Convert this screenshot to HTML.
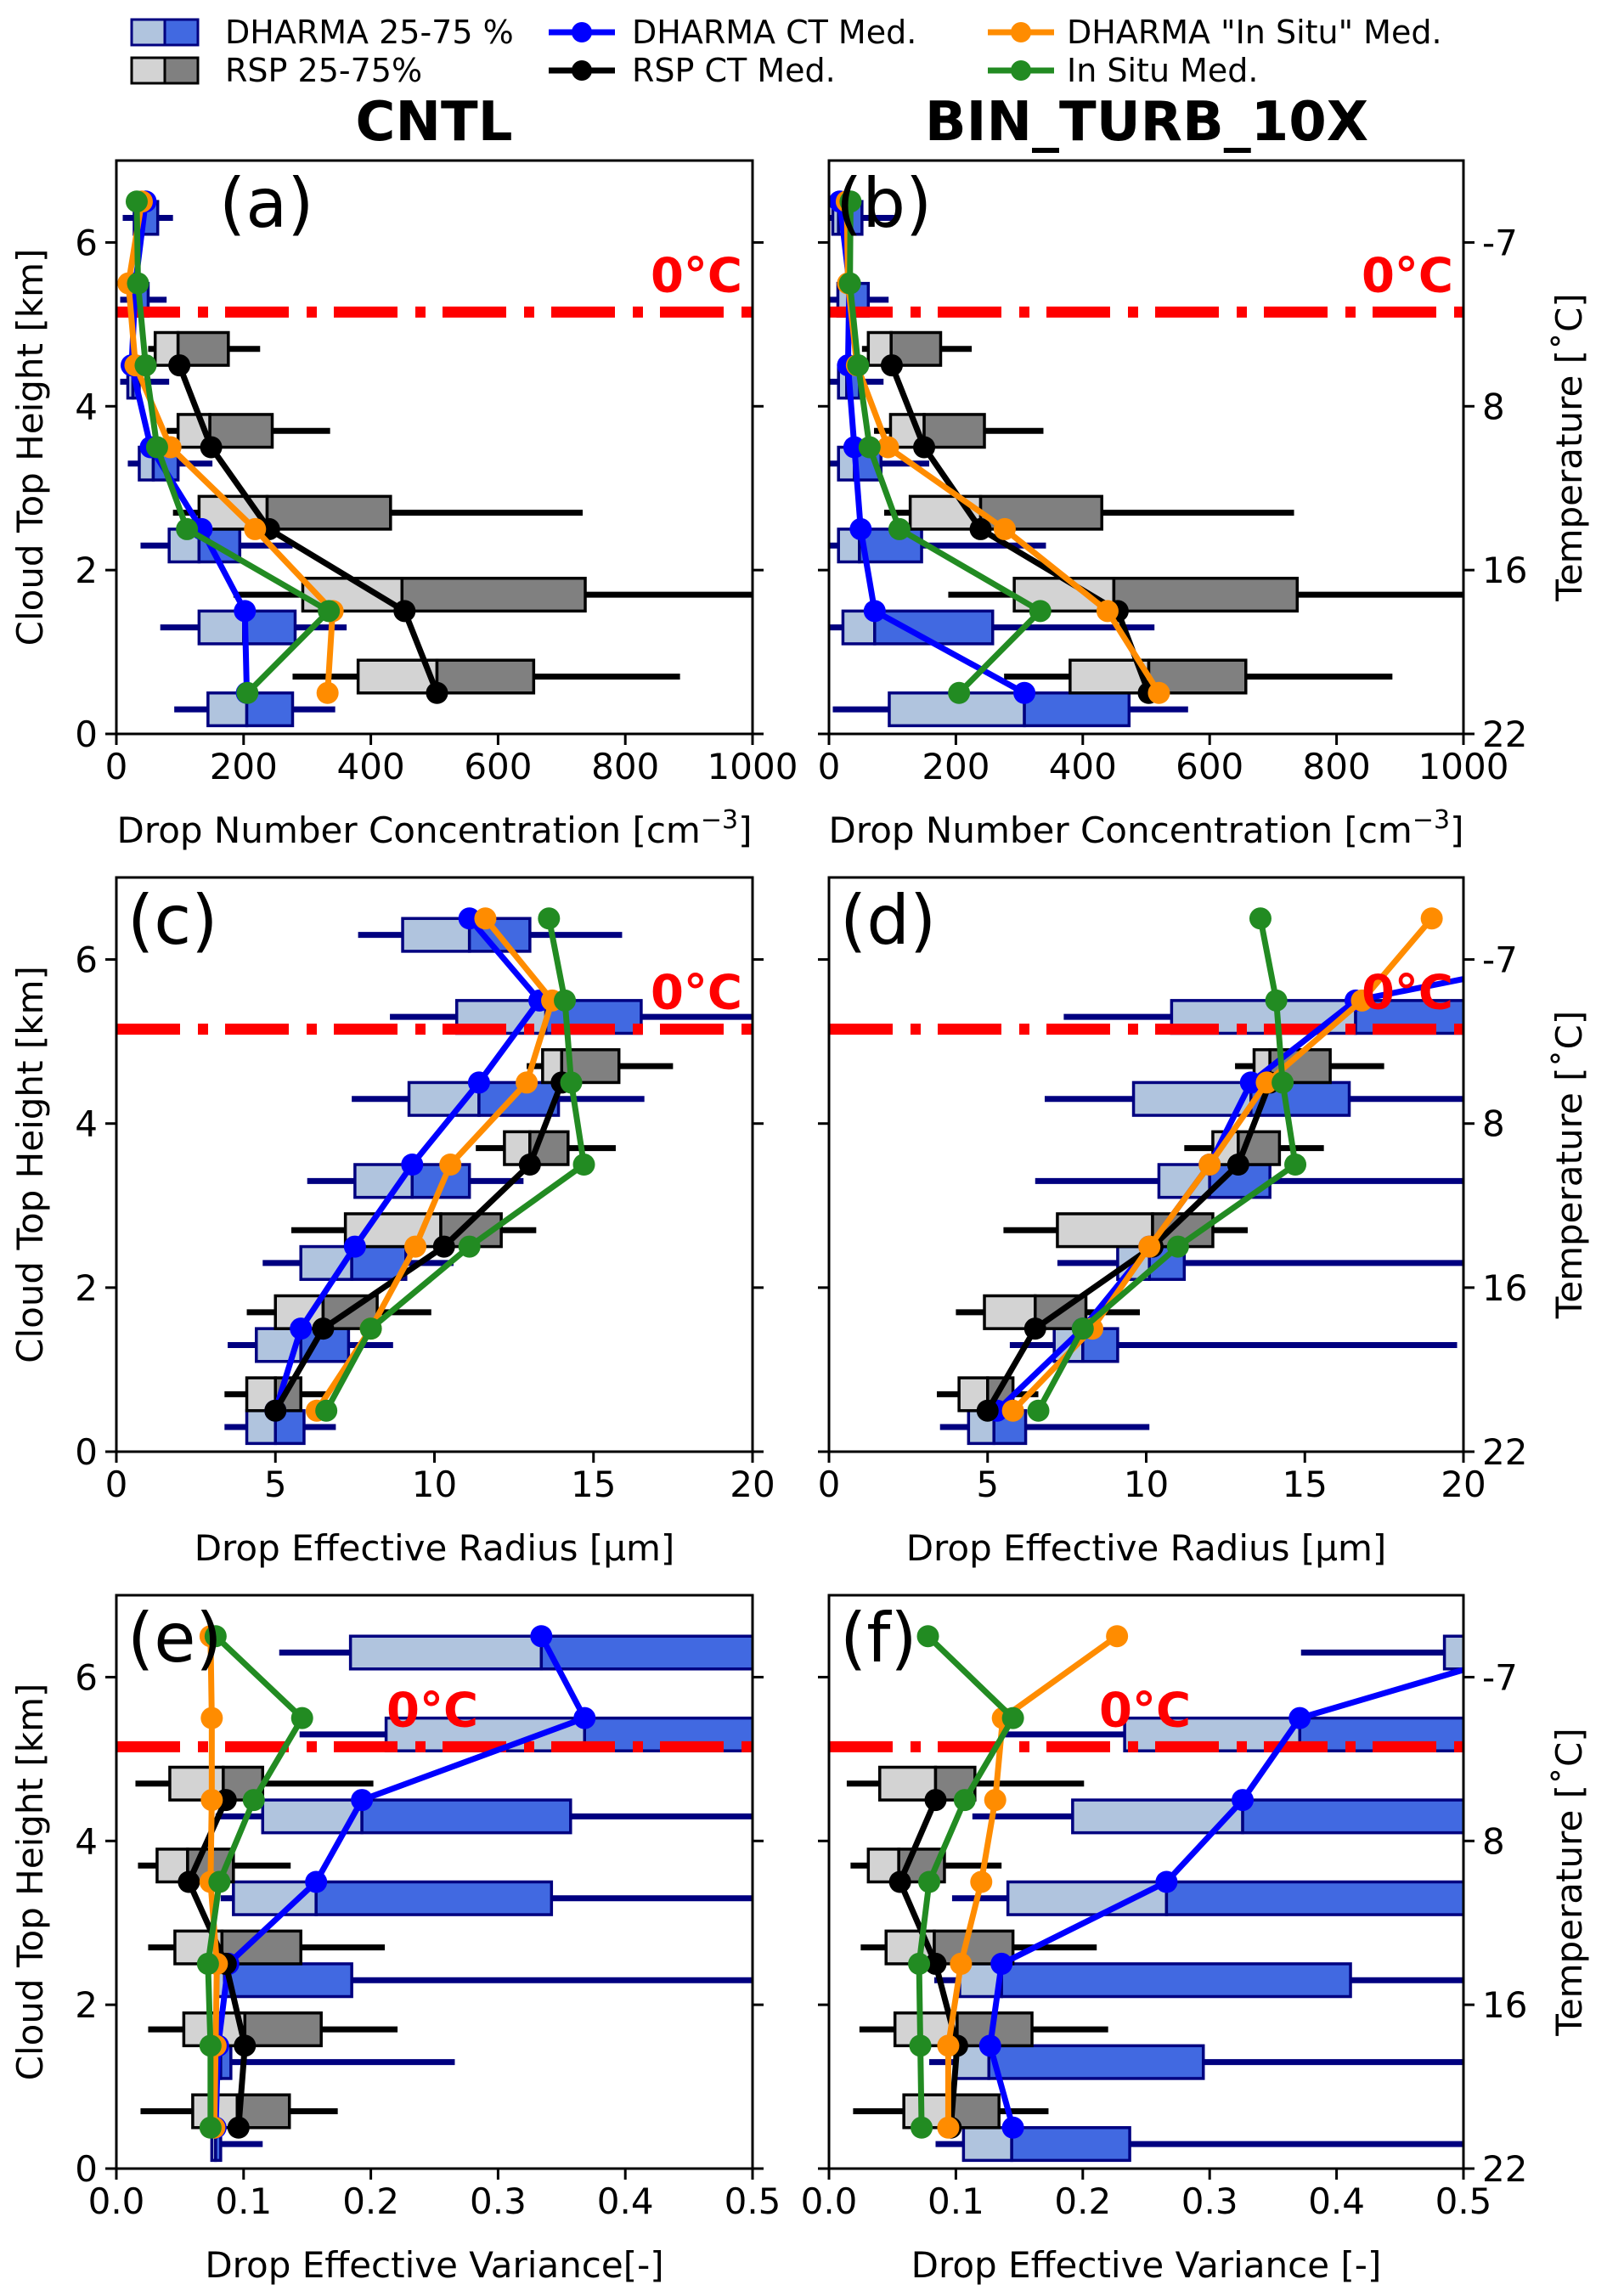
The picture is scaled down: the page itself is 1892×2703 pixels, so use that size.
<!DOCTYPE html>
<html><head><meta charset="utf-8">
<style>
html,body{margin:0;padding:0;background:#fff;}
svg{display:block;font-family:"DejaVu Sans","Liberation Sans",sans-serif;}
</style></head>
<body>
<svg id="fig" xmlns="http://www.w3.org/2000/svg" width="1892" height="2703" viewBox="0 0 1892 2703">
<rect width="1892" height="2703" fill="#fff"/>
<g id="legend">
 <g>
  <rect x="155" y="23" width="39" height="30" fill="#b0c4de" stroke="#000080" stroke-width="3"/>
  <rect x="194" y="23" width="39" height="30" fill="#4169e1" stroke="#000080" stroke-width="3"/>
  <text x="265" y="51" font-size="38">DHARMA 25-75 %</text>
 </g>
 <g>
  <rect x="155" y="68" width="39" height="30" fill="#d3d3d3" stroke="#000" stroke-width="3"/>
  <rect x="194" y="68" width="39" height="30" fill="#808080" stroke="#000" stroke-width="3"/>
  <text x="265" y="96" font-size="38">RSP 25-75%</text>
 </g>
 <g>
  <line x1="646" y1="38" x2="724" y2="38" stroke="#0000ff" stroke-width="7"/><circle cx="685" cy="38" r="12" fill="#0000ff"/>
  <text x="744" y="51" font-size="38">DHARMA CT Med.</text>
 </g>
 <g>
  <line x1="646" y1="83" x2="724" y2="83" stroke="#000" stroke-width="7"/><circle cx="685" cy="83" r="12" fill="#000"/>
  <text x="744" y="96" font-size="38">RSP CT Med.</text>
 </g>
 <g>
  <line x1="1163" y1="38" x2="1241" y2="38" stroke="#ff8c00" stroke-width="7"/><circle cx="1202" cy="38" r="12" fill="#ff8c00"/>
  <text x="1256" y="51" font-size="38">DHARMA "In Situ" Med.</text>
 </g>
 <g>
  <line x1="1163" y1="83" x2="1241" y2="83" stroke="#228b22" stroke-width="7"/><circle cx="1202" cy="83" r="12" fill="#228b22"/>
  <text x="1256" y="96" font-size="38">In Situ Med.</text>
 </g>
</g>
<text x="511" y="165" font-size="64" font-weight="bold" text-anchor="middle">CNTL</text>
<text x="1350" y="165" font-size="64" font-weight="bold" text-anchor="middle">BIN_TURB_10X</text>
<g id="panels"></g>
</svg>
<script>
// ---------- Panel (a) CNTL number concentration ----------
const aDLo=[91,69,38,18,6,6,10];
const aDQ1=[144,130,83,36,18,22,28];
const aDMed=[205,200,130,58,26,30,38];
const aDQ3=[277,281,194,97,36,50,65];
const aDHi=[344,362,277,151,83,79,89];
const aDCT=[205,202,134,54,24,30,46];
const aRLo=[277,184,89,79,50];
const aRQ1=[380,293,130,97,61];
const aRMed=[504,449,237,147,97];
const aRQ3=[656,737,431,245,176];
const aRHi=[886,1050,733,336,226];
const aRCT=[504,453,240,149,99];
const aDIS=[332,340,218,85,30,19,40];
const aIS=[206,334,111,64,46,34,32];
// ---------- Panel (b) ----------
const bDLo=[6,0,0,0,0,0,0];
const bDQ1=[95,22,15,15,15,14,6];
const bDMed=[308,72,48,40,28,30,15];
const bDQ3=[473,258,146,82,48,62,52];
const bDHi=[566,513,342,158,86,94,105];
const bDCT=[308,72,50,40,30,32,17];
const bRLo=[276,188,87,71,52];
const bRQ1=[380,292,128,97,62];
const bRMed=[504,449,239,150,98];
const bRQ3=[657,738,430,245,176];
const bRHi=[888,1050,733,338,225];
const bRCT=[504,455,239,150,99];
const bDIS=[520,439,277,93,44,30,28];
const bIS=[205,333,111,64,46,33,34];
// ---------- Panel (c) effective radius CNTL ----------
const cDLo=[3.4,3.5,4.6,6.0,7.4,8.6,7.6];
const cDQ1=[4.1,4.4,5.8,7.5,9.2,10.7,9.0];
const cDMed=[5.0,5.8,7.4,9.3,11.4,13.5,11.1];
const cDQ3=[5.9,7.3,9.1,11.1,13.9,16.5,13.0];
const cDHi=[6.9,8.7,10.6,12.8,16.6,21,15.9];
const cDCT=[5.0,5.8,7.5,9.3,11.4,13.3,11.1];
const cRLo=[3.4,4.1,5.5,11.3,12.9];
const cRQ1=[4.1,5.0,7.2,12.2,13.4];
const cRMed=[5.0,6.5,10.2,13.0,14.0];
const cRQ3=[5.8,8.2,12.1,14.2,15.8];
const cRHi=[6.6,9.9,13.2,15.7,17.5];
const cRCT=[5.0,6.5,10.3,13.0,14.0];
const cDIS=[6.3,8.0,9.4,10.5,12.9,13.7,11.6];
const cIS=[6.6,8.0,11.1,14.7,14.3,14.1,13.6];
// ---------- Panel (d) ----------
const dDLo=[3.5,5.7,7.2,6.5,6.8,7.4,21];
const dDQ1=[4.4,7.1,9.1,10.4,9.6,10.8,24];
const dDMed=[5.2,8.0,10.1,12.0,13.3,16.6,29.6];
const dDQ3=[6.2,9.1,11.2,13.9,16.4,22,32];
const dDHi=[10.1,19.8,21,21,21,21,34];
const dDCT=[5.3,8.0,10.1,12.0,13.3,16.6,29.6];
const dRLo=[3.4,4.0,5.5,11.2,12.8];
const dRQ1=[4.1,4.9,7.2,12.1,13.4];
const dRMed=[5.0,6.5,10.2,12.9,13.9];
const dRQ3=[5.8,8.1,12.1,14.2,15.8];
const dRHi=[6.6,9.8,13.2,15.6,17.5];
const dRCT=[5.0,6.5,10.2,12.9,13.9];
const dDIS=[5.8,8.3,10.1,12.0,13.8,16.8,19.0];
const dIS=[6.6,8.0,11.0,14.7,14.3,14.1,13.6];
// ---------- Panel (e) effective variance CNTL ----------
const eDLo=[0.077,0.078,0.077,0.082,0.078,0.144,0.128];
const eDQ1=[0.075,0.079,0.078,0.092,0.115,0.212,0.184];
const eDMed=[0.078,0.082,0.085,0.157,0.193,0.368,0.334];
const eDQ3=[0.082,0.090,0.185,0.342,0.357,0.6,0.6];
const eDHi=[0.115,0.266,0.6,0.6,0.6,0.6,0.7];
const eDCT=[0.078,0.080,0.088,0.157,0.193,0.368,0.334];
const eRLo=[0.019,0.025,0.025,0.017,0.015];
const eRQ1=[0.060,0.053,0.046,0.032,0.042];
const eRMed=[0.095,0.101,0.083,0.056,0.084];
const eRQ3=[0.136,0.161,0.145,0.092,0.115];
const eRHi=[0.174,0.221,0.211,0.137,0.202];
const eRCT=[0.096,0.101,0.086,0.057,0.086];
const eDIS=[0.077,0.078,0.079,0.074,0.075,0.075,0.074];
const eIS=[0.074,0.074,0.072,0.081,0.108,0.146,0.078];
// ---------- Panel (f) ----------
const fDLo=[0.084,0.079,0.083,0.097,0.113,0.138,0.372];
const fDQ1=[0.106,0.100,0.103,0.141,0.192,0.233,0.485];
const fDMed=[0.144,0.126,0.136,0.266,0.326,0.371,0.59];
const fDQ3=[0.237,0.295,0.411,0.55,0.55,0.6,0.7];
const fDHi=[0.6,0.6,0.6,0.6,0.6,0.6,0.8];
const fDCT=[0.145,0.127,0.136,0.266,0.326,0.371,0.59];
const fRLo=[0.019,0.024,0.025,0.017,0.014];
const fRQ1=[0.059,0.052,0.045,0.031,0.040];
const fRMed=[0.096,0.101,0.083,0.055,0.084];
const fRQ3=[0.134,0.160,0.145,0.091,0.115];
const fRHi=[0.173,0.220,0.211,0.136,0.201];
const fRCT=[0.096,0.101,0.084,0.056,0.084];
const fDIS=[0.094,0.094,0.104,0.120,0.131,0.137,0.227];
const fIS=[0.073,0.072,0.071,0.079,0.107,0.145,0.078];

const levels=[0.5,1.5,2.5,3.5,4.5,5.5,6.5];
const yTicks=[0,2,4,6];
const tempTicks=["22","16","8","-7"];
const freezeKm=5.15;
const ticksN=["0","200","400","600","800","1000"];
const ticksR=["0","5","10","15","20"];
const ticksV=["0.0","0.1","0.2","0.3","0.4","0.5"];

const NS="http://www.w3.org/2000/svg";
const root=document.getElementById('panels');
function mk(tag,attrs,parent){const e=document.createElementNS(NS,tag);for(const k in attrs)e.setAttribute(k,attrs[k]);(parent||root).appendChild(e);return e;}

const L={x0:137,x1:886}, R={x0:976,x1:1723};
const rows=[{t:189,b:864},{t:1033,b:1709},{t:1878,b:2553}];
const panels=[
 {id:'a',col:L,row:rows[0],max:1000,ticks:ticksN,xl:'Drop Number Concentration [cm',sup:true,D:[aDLo,aDQ1,aDMed,aDQ3,aDHi],R:[aRLo,aRQ1,aRMed,aRQ3,aRHi],dct:aDCT,rct:aRCT,dis:aDIS,is:aIS,fx:null,tl:258},
 {id:'b',col:R,row:rows[0],max:1000,ticks:ticksN,xl:'Drop Number Concentration [cm',sup:true,D:[bDLo,bDQ1,bDMed,bDQ3,bDHi],R:[bRLo,bRQ1,bRMed,bRQ3,bRHi],dct:bDCT,rct:bRCT,dis:bDIS,is:bIS,fx:null,tl:984},
 {id:'c',col:L,row:rows[1],max:20,ticks:ticksR,xl:'Drop Effective Radius [\u03bcm]',D:[cDLo,cDQ1,cDMed,cDQ3,cDHi],R:[cRLo,cRQ1,cRMed,cRQ3,cRHi],dct:cDCT,rct:cRCT,dis:cDIS,is:cIS,fx:null,tl:150},
 {id:'d',col:R,row:rows[1],max:20,ticks:ticksR,xl:'Drop Effective Radius [\u03bcm]',D:[dDLo,dDQ1,dDMed,dDQ3,dDHi],R:[dRLo,dRQ1,dRMed,dRQ3,dRHi],dct:dDCT,rct:dRCT,dis:dDIS,is:dIS,fx:null,tl:989},
 {id:'e',col:L,row:rows[2],max:0.5,ticks:ticksV,xl:'Drop Effective Variance[-]',D:[eDLo,eDQ1,eDMed,eDQ3,eDHi],R:[eRLo,eRQ1,eRMed,eRQ3,eRHi],dct:eDCT,rct:eRCT,dis:eDIS,is:eIS,fx:455,tl:150},
 {id:'f',col:R,row:rows[2],max:0.5,ticks:ticksV,xl:'Drop Effective Variance [-]',D:[fDLo,fDQ1,fDMed,fDQ3,fDHi],R:[fRLo,fRQ1,fRMed,fRQ3,fRHi],dct:fDCT,rct:fRCT,dis:fDIS,is:fIS,fx:1294,tl:989}
];

panels.forEach(p=>{
 const x0=p.col.x0,x1=p.col.x1,top=p.row.t,bot=p.row.b;
 const X=v=>x0+(v/p.max)*(x1-x0);
 const Y=km=>bot-km/7*(bot-top);
 const g=mk('g',{});
 
 
 const cp=mk('clipPath',{id:'clip'+p.id},g);
 mk('rect',{x:x0,y:top,width:x1-x0,height:bot-top},cp);
 const plot=mk('g',{'clip-path':'url(#clip'+p.id+')'},g);
 const bh=(bot-top)/7*0.4;
 function boxes(S,off,fl,fd,ec,wc,nm,n){
  for(let i=0;i<n;i++){
   const yc=Y(levels[i]+off);
   const w=mk('line',{x1:X(S[0][i]),x2:X(S[4][i]),y1:yc,y2:yc,stroke:wc,'stroke-width':7},plot);
   
   
   const r1=mk('rect',{x:X(S[1][i]),y:yc-bh/2,width:Math.max(0,X(S[2][i])-X(S[1][i])),height:bh,fill:fl,stroke:ec,'stroke-width':3.5},plot);
   
   
   const r2=mk('rect',{x:X(S[2][i]),y:yc-bh/2,width:Math.max(0,X(S[3][i])-X(S[2][i])),height:bh,fill:fd,stroke:ec,'stroke-width':3.5},plot);
   
   
  }
 }
 boxes(p.D,-0.2,'#b0c4de','#4169e1','#000080','#000080','dharma',7);
 boxes(p.R,0.2,'#d3d3d3','#808080','#000','#000','rsp',5);
 const fy=Y(freezeKm);
 const fl=mk('line',{x1:x0,x2:x1,y1:fy,y2:fy,stroke:'#ff0000','stroke-width':13,'stroke-dasharray':'75 21 12 20'},plot);
 
 
 const ft=mk('text',{y:fy-24,'font-size':56,'font-weight':'bold',fill:'#ff0000'},g);
 if(p.fx){ft.setAttribute('x',p.fx);}else{ft.setAttribute('x',x1-12);ft.setAttribute('text-anchor','end');}
 ft.textContent='0\u00b0C';
 
 
 function series(vals,color,nm){
  const pts=vals.map((v,i)=>X(v)+','+Y(levels[i])).join(' ');
  const pl=mk('polyline',{points:pts,fill:'none',stroke:color,'stroke-width':7,'stroke-linejoin':'round'},plot);
  
  
  vals.forEach((v,i)=>{
   const c=mk('circle',{cx:X(v),cy:Y(levels[i]),r:13,fill:color},plot);
   
   
  });
 }
 series(p.dct,'#0000ff','dharma-ct-median');
 series(p.rct,'#000000','rsp-ct-median');
 series(p.dis,'#ff8c00','dharma-insitu-median');
 series(p.is,'#228b22','insitu-median');
 mk('rect',{x:x0,y:top,width:x1-x0,height:bot-top,fill:'none',stroke:'#000','stroke-width':3},g);
 p.ticks.forEach((t,i)=>{
  const xv=x0+i/(p.ticks.length-1)*(x1-x0);
  mk('line',{x1:xv,x2:xv,y1:bot,y2:bot+13,stroke:'#000','stroke-width':3},g);
  const tx=mk('text',{x:xv,y:bot+53,'font-size':42,'text-anchor':'middle'},g);
  tx.textContent=t;
  
  
 });
 const xl=mk('text',{x:(x0+x1)/2,y:bot+128,'font-size':42,'text-anchor':'middle'},g);
 
 
 if(p.sup){xl.textContent=p.xl;const s=mk('tspan',{dy:-17,'font-size':30},xl);s.textContent='\u22123';const s2=mk('tspan',{dy:17},xl);s2.textContent=']';}
 else xl.textContent=p.xl;
 yTicks.forEach((t,i)=>{
  const yv=Y(t);
  mk('line',{x1:x0-13,x2:x0,y1:yv,y2:yv,stroke:'#000','stroke-width':3},g);
  mk('line',{x1:x1,x2:x1+13,y1:yv,y2:yv,stroke:'#000','stroke-width':3},g);
  if(p.col===L){
   const ty=mk('text',{x:x0-22,y:yv+15,'font-size':42,'text-anchor':'end'},g);
   ty.textContent=String(t);
   
   
  } else {
   const ty=mk('text',{x:x1+22,y:yv+15,'font-size':42},g);
   ty.textContent=tempTicks[i];
   
   
  }
 });
 const cy=(top+bot)/2;
 if(p.col===L){
  const yl=mk('text',{x:50,y:cy,'font-size':42,'text-anchor':'middle',transform:'rotate(-90 50 '+cy+')'},g);
  yl.textContent='Cloud Top Height [km]';
  
  
 } else {
  const yl=mk('text',{x:1862,y:cy,'font-size':42,'text-anchor':'middle',transform:'rotate(-90 1862 '+cy+')'},g);
  yl.textContent='Temperature [\u02daC]';
  
  
 }
 const pl=mk('text',{x:p.tl,y:top+78,'font-size':80},g);
 pl.textContent='('+p.id+')';
 
 
});
</script>
</body></html>
